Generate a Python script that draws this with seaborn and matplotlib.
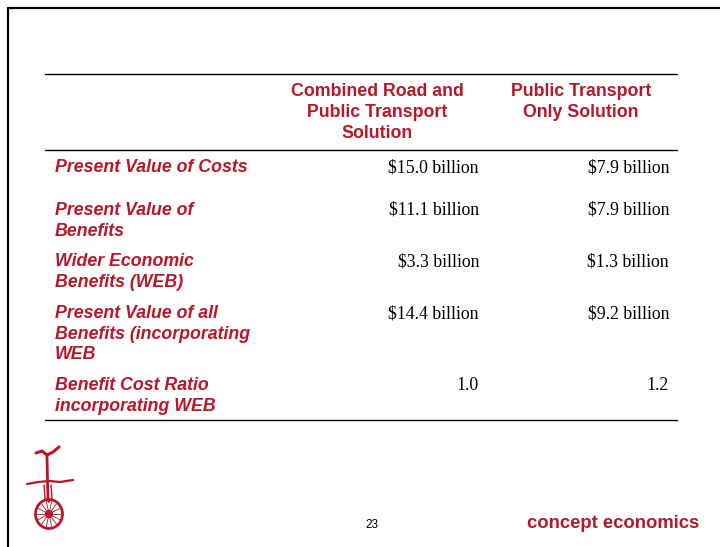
import numpy as np
import matplotlib
matplotlib.use("Agg")
import matplotlib.pyplot as plt
from matplotlib.patches import Circle, Ellipse
import seaborn as sns

# table content
col_headers = ["Combined Road and\nPublic Transport\nSolution", "Public Transport\nOnly Solution"]
row_labels = [
    "Present Value of Costs",
    "Present Value of\nBenefits",
    "Wider Economic\nBenefits (WEB)",
    "Present Value of all\nBenefits (incorporating\nWEB",
    "Benefit Cost Ratio\nincorporating WEB",
]
combined_vals = ["$15.0 billion", "$11.1 billion", "$3.3 billion", "$14.4 billion", "1.0"]
pt_only_vals = ["$7.9 billion", "$7.9 billion", "$1.3 billion", "$9.2 billion", "1.2"]
page_number = "23"
brand = "concept economics"

RED = "#B8172A"
LINE_STEP = 20.6

sns.set_theme(style="white")
plt.rcParams["font.family"] = ["Liberation Sans", "DejaVu Sans"]

fig = plt.figure(figsize=(7.2, 5.47), dpi=100)
ax = fig.add_axes([0, 0, 1, 1])
ax.set_xlim(0, 720)
ax.set_ylim(547, 0)
ax.axis("off")


def put_lines(x, y, text, **kw):
    # one text per line so every baseline sits where we want it
    for i, line in enumerate(text.split("\n")):
        ax.text(x, y + i * LINE_STEP, line, va="baseline", **kw)


# slide frame (top and left edges visible)
ax.plot([8, 720], [8, 8], color="black", lw=1.6)
ax.plot([8, 8], [8, 547], color="black", lw=1.6)

# table rules
for y in [74, 150, 420]:
    ax.plot([45, 677], [y, y], color="black", lw=1.0)

# headers
header_x = [377, 581]
for x, h in zip(header_x, col_headers):
    put_lines(x, 96.5, h, ha="center", color=RED, fontsize=12.8, fontweight="bold")

# rows
row_y = [172, 215, 266, 318, 390]
for y, lab, v1, v2 in zip(row_y, row_labels, combined_vals, pt_only_vals):
    put_lines(55, y, lab, ha="left", color=RED, fontsize=12.8,
              fontweight="bold", fontstyle="italic")
    ax.text(479, y, v1, ha="right", va="baseline", color="black", fontsize=12.8,
            family="Liberation Serif")
    ax.text(669, y, v2, ha="right", va="baseline", color="black", fontsize=12.8,
            family="Liberation Serif")

# footer
ax.text(372, 528, page_number, ha="center", va="baseline", fontsize=8.5, color="black")
ax.text(699, 528, brand, ha="right", va="baseline", fontsize=13.3, fontweight="heavy",
        color=RED)

# unicycle logo sketch
ax.add_patch(Ellipse((49, 514), 27, 29, fill=False, ec=RED, lw=2.0))
ax.add_patch(Circle((49, 514), 3.5, fill=True, fc=RED, ec=RED))
for a in np.linspace(0, np.pi, 7, endpoint=False):
    ax.plot([49 - 12 * np.cos(a), 49 + 12 * np.cos(a)],
            [514 - 13 * np.sin(a), 514 + 13 * np.sin(a)], color=RED, lw=0.6)
ax.plot([47, 47.5, 48], [456, 480, 500], color=RED, lw=2.0)
ax.plot([27, 38, 50, 60, 73], [484, 482, 481, 482, 480], color=RED, lw=1.6)
ax.plot([44, 45, 49], [485, 498, 502], color=RED, lw=1.0)
ax.plot([51, 52, 49], [485, 498, 502], color=RED, lw=1.0)
ax.plot([36, 42, 47, 53, 59], [453, 451, 455, 452, 447], color=RED, lw=2.2)

fig.savefig("out.png", dpi=100)
